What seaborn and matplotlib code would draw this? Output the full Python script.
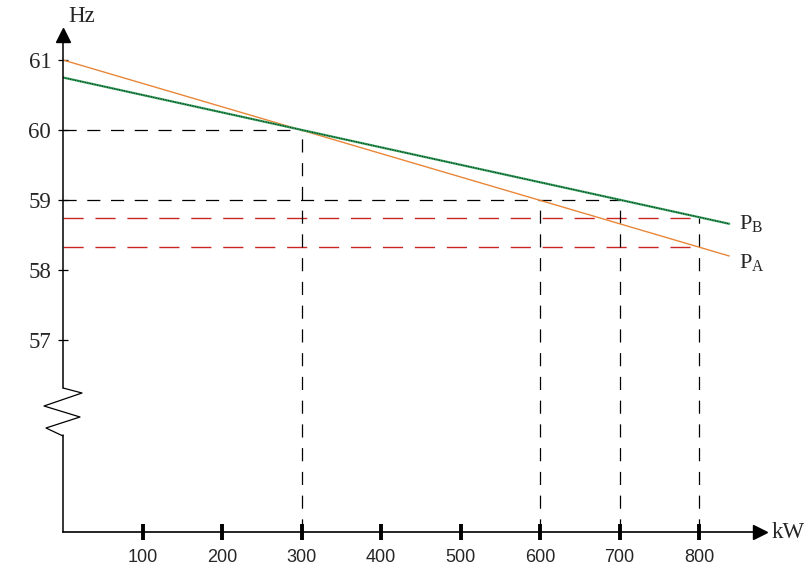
import matplotlib
matplotlib.use("Agg")
import matplotlib.pyplot as plt
import numpy as np
import pandas as pd
import seaborn as sns

# droop lines of the two generators
load_kw = [0, 838]
freq_a = [61.0, 58.2]
freq_b = [60.75, 58.66]

# dashed helper lines: (frequency, kW where it stops)
black_levels = [(60.0, 300), (59.0, 700)]
red_levels = [(58.75, 800), (58.33, 800)]
# vertical dashed lines: (kW, frequency where it starts)
verticals = [(300, 60.0), (600, 59.0), (700, 59.0), (800, 58.75)]

x_ticks = [100, 200, 300, 400, 500, 600, 700, 800]
y_ticks = [57, 58, 59, 60, 61]

sns.set_style("white")
plt.rcParams["font.family"] = ["Liberation Serif", "DejaVu Serif"]
plt.rcParams["mathtext.fontset"] = "custom"
plt.rcParams["mathtext.rm"] = "Liberation Serif"

# pixel scale of the picture
PX_PER_KW = 0.795
PX_PER_HZ = 70.0
X0, Y60 = 63.0, 130.0
XMAX = (760 - X0) / PX_PER_KW
YMIN = 60 - (532 - Y60) / PX_PER_HZ
YMAX = 60 + (Y60 - 35) / PX_PER_HZ


def px(xp, yp):
    return (xp - X0) / PX_PER_KW, 60 - (yp - Y60) / PX_PER_HZ


fig = plt.figure(figsize=(8.08, 5.78), dpi=100)
ax = fig.add_axes([X0 / 808, (578 - 532) / 578, (760 - X0) / 808, (532 - 35) / 578])
ax.set_xlim(0, XMAX)
ax.set_ylim(YMIN, YMAX)

# dashed construction lines
for f, kw in black_levels:
    ax.plot([0, kw], [f, f], color="black", lw=0.9, dashes=(10.5, 8.5))
for f, kw in red_levels:
    ax.plot([0, kw], [f, f], color="#cc2424", lw=1.0, dashes=(14.5, 8.5))
for kw, f in verticals:
    ax.plot([kw, kw], [YMIN, f], color="black", lw=0.9, dashes=(10.5, 8.5))

df = pd.DataFrame({
    "kW": load_kw * 2,
    "Hz": freq_a + freq_b,
    "gen": ["A"] * len(load_kw) + ["B"] * len(load_kw),
})
sns.lineplot(data=df, x="kW", y="Hz", hue="gen",
             palette={"A": "#e8873a", "B": "#2f9a58"}, legend=False, ax=ax)
ax.lines[-2].set_linewidth(1.0)
ax.lines[-1].set_linewidth(1.6)
ax.plot(load_kw, freq_b, color="black", lw=0.6, ls=(0, (1, 2)))

ax.text(load_kw[-1] + 12, freq_b[-1] + 0.0, r"P$_{\mathrm{B}}$", fontsize=16, va="center", ha="left")
ax.text(load_kw[-1] + 12, freq_a[-1] - 0.1, r"P$_{\mathrm{A}}$", fontsize=16, va="center", ha="left")

# axes with a break in the frequency axis
for s in ["top", "right", "left"]:
    ax.spines[s].set_visible(False)
ax.spines["bottom"].set_color("black")
ax.spines["bottom"].set_linewidth(1.2)

top_y = px(0, 388)[1]
bot_y = px(0, 435)[1]
ax.plot([0, 0], [top_y, YMAX], color="black", lw=1.1, clip_on=False)
ax.plot([0, 0], [YMIN, bot_y], color="black", lw=1.1, clip_on=False)
zig = [px(63, 388), px(82, 393), px(44, 406), px(80, 417), px(46, 428), px(63, 436)]
ax.plot([p[0] for p in zig], [p[1] for p in zig], color="black", lw=0.9, clip_on=False)

ax.plot([0], [YMAX], marker="^", color="black", markersize=10, clip_on=False)
ax.plot([XMAX], [YMIN], marker=">", color="black", markersize=10, clip_on=False)

ax.set_xticks(x_ticks)
ax.set_xticklabels([str(t) for t in x_ticks], fontfamily="Liberation Sans", fontsize=13)
ax.set_yticks(y_ticks)
ax.set_yticklabels([str(t) for t in y_ticks], fontsize=16.5)
ax.tick_params(axis="x", bottom=True, direction="inout", length=11, width=2.8, pad=7, color="black")
ax.tick_params(axis="y", left=True, direction="inout", length=7, width=0.9, pad=5, color="black")
ax.set_xlabel("")
ax.set_ylabel("")

fig.text(68 / 808, 1 - 16 / 578, "Hz", fontsize=16.5, ha="left", va="center")
fig.text(772 / 808, 1 - 533 / 578, "kW", fontsize=16.5, ha="left", va="center")

fig.savefig("out.png", dpi=100)
